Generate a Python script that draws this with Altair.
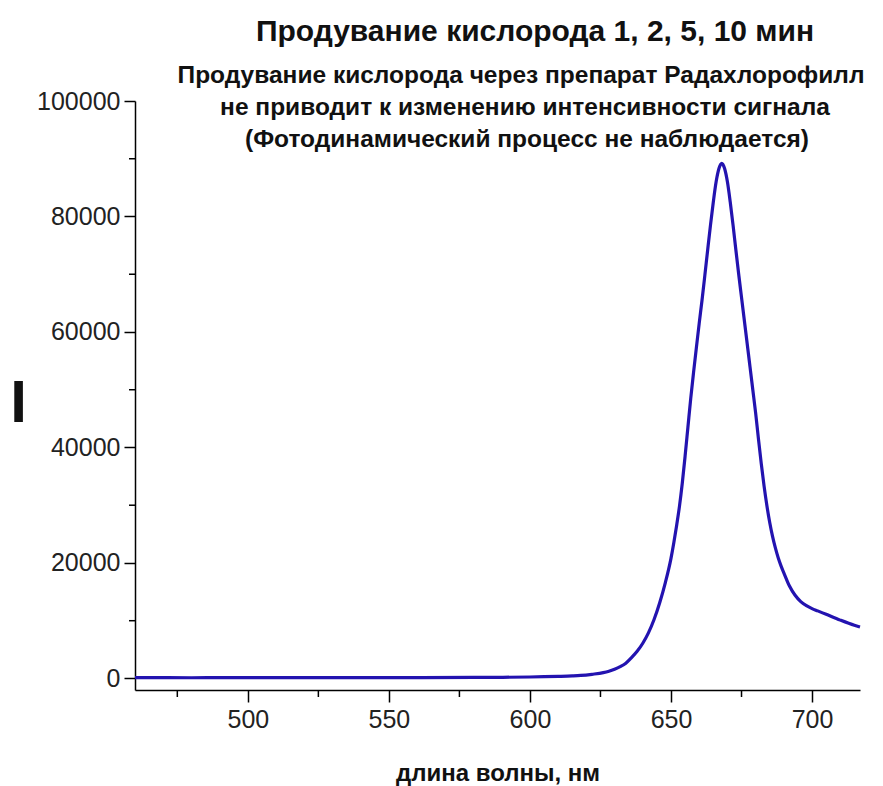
import altair as alt
import pandas as pd

# ---- data ----
wavelength = [460, 480, 500, 520, 540, 560, 580, 590, 600,
              605, 610, 615, 618, 622, 626, 628,
              630, 632, 634, 636, 638, 640, 642, 644, 646, 648,
              650, 651, 652, 653, 654, 655, 656, 657, 658, 659,
              660, 661, 662, 663, 664, 665, 666, 667, 668, 669,
              670, 671, 672, 673, 674, 675, 676, 677, 678, 679,
              680, 681, 682, 683, 684, 685, 686, 687, 688, 689, 690,
              692, 694, 696, 698, 700, 702, 705, 710, 715, 717]
intensity = [150, 120, 150, 130, 140, 150, 180, 200, 250,
             300, 360, 440, 520, 720, 1000, 1250,
             1600, 2050, 2650, 3600, 4700, 6100, 7900, 10200, 13100, 16600,
             20800, 23500, 26500, 29800, 33800, 38500, 43500, 48500, 53000, 57300,
             61500, 65500, 69800, 74200, 78500, 82500, 86000, 88300, 89200, 88300,
             86000, 82500, 78500, 74200, 70000, 66000, 62000, 58000, 54000, 50000,
             46000, 41500, 37200, 33300, 29900, 27000, 24600, 22600, 20900, 19500, 18300,
             16000, 14400, 13300, 12600, 12100, 11700, 11100, 10100, 9200, 8900]

major_x = [500, 550, 600, 650, 700]
minor_x = [475, 525, 575, 625, 675]
major_y = [0, 20000, 40000, 60000, 80000, 100000]
minor_y = [10000, 30000, 50000, 70000, 90000]

title_text = "Продувание кислорода 1, 2, 5, 10 мин"
subtitle_lines = [
    "Продувание кислорода через препарат Радахлорофилл",
    "не приводит к изменению интенсивности сигнала",
    "(Фотодинамический процесс не наблюдается)",
]
x_title = "длина волны, нм"
y_title = "I"

FONT = "Liberation Sans"
W, H = 725, 589
LINE_COLOR = "#2313b0"

df = pd.DataFrame({"wl": wavelength, "I": intensity})

xscale = alt.Scale(domain=[460, 717], nice=False, zero=False)
yscale = alt.Scale(domain=[-2000, 100000], nice=False)

line = alt.Chart(df).mark_line(color=LINE_COLOR, strokeWidth=3.2, interpolate="monotone").encode(
    x=alt.X("wl:Q", scale=xscale,
            axis=alt.Axis(values=major_x, title=x_title, labelFontSize=25, labelPadding=5,
                          titleFontSize=24, titleFontWeight="bold", titleY=83,
                          titleBaseline="middle", tickSize=12)),
    y=alt.Y("I:Q", scale=yscale,
            axis=alt.Axis(values=major_y, format="d", title=y_title, labelFontSize=25,
                          labelPadding=4, tickSize=11,
                          titleAngle=0, titleFontSize=60, titleFontWeight="bold",
                          titleX=-117, titleY=302, titleAlign="center",
                          titleBaseline="middle")),
)

minor_x_layer = alt.Chart(pd.DataFrame({"wl": minor_x})).mark_rule(
    color="black", strokeWidth=1.5).encode(
    x=alt.X("wl:Q"), y=alt.value(H), y2=alt.value(H + 7))

minor_y_layer = alt.Chart(pd.DataFrame({"I": minor_y})).mark_rule(
    color="black", strokeWidth=1.5).encode(
    y=alt.Y("I:Q"), x=alt.value(-6), x2=alt.value(0))

one = pd.DataFrame({"k": [0]})
title_layer = alt.Chart(one).mark_text(
    text=title_text, font=FONT, fontSize=30, fontWeight="bold", color="#111",
    align="center", baseline="middle").encode(x=alt.value(400), y=alt.value(-69))

sub_x = [386, 390, 392]
sub_y = [-25, 7, 39]
sub_layers = [
    alt.Chart(one).mark_text(
        text=t, font=FONT, fontSize=24.5, fontWeight="bold", color="#111",
        align="center", baseline="middle").encode(x=alt.value(sx), y=alt.value(sy))
    for t, sx, sy in zip(subtitle_lines, sub_x, sub_y)
]

chart = alt.layer(line, minor_x_layer, minor_y_layer, title_layer, *sub_layers).properties(
    width=W, height=H,
    autosize=alt.AutoSizeParams(type="none"),
    padding={"left": 135, "top": 101, "right": 23, "bottom": 96},
).configure(
    font=FONT,
).configure_view(stroke=None).configure_axis(
    grid=False, domainColor="black", domainWidth=1.5, tickColor="black", tickWidth=1.5,
    labelColor="#222", labelFont=FONT, titleFont=FONT, titleColor="#111",
)

chart.save("out.html", embed_options={"renderer": "svg", "actions": False})
